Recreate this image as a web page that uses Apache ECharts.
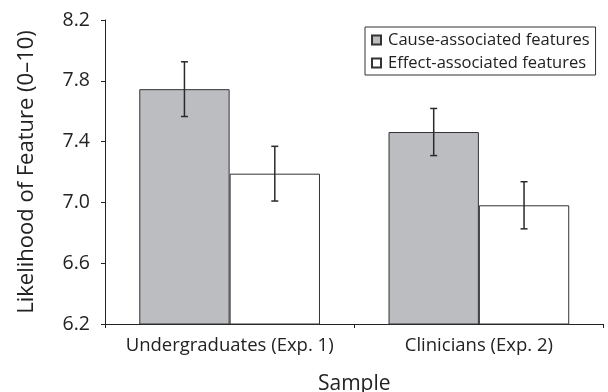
<!DOCTYPE html>
<html><head><meta charset="utf-8">
<script src="https://cdn.jsdelivr.net/npm/echarts@6/dist/echarts.min.js"></script>
<style>html,body{margin:0;padding:0;background:#fff}#c{width:608px;height:392px}</style>
</head><body><div id="c"></div>
<script>
var categories = ['Undergraduates (Exp. 1)', 'Clinicians (Exp. 2)'];
var seriesNames = ['Cause-associated features', 'Effect-associated features'];
var causeValues = [7.745, 7.463];
var effectValues = [7.189, 6.981];
var causeErrors = [0.18, 0.155];
var effectErrors = [0.18, 0.155];
var yTicks = ['6.2', '6.6', '7.0', '7.4', '7.8', '8.2'];

var FONT = 'Open Sans';
var CAT_GAP = 0.275;

function errSeries(values, errs, side) {
  return {
    type: 'custom',
    silent: true,
    z: 5,
    data: values.map(function (v, i) { return [i, v, errs[i]]; }),
    renderItem: function (params, api) {
      var band = api.size([1, 0])[0];
      var bw = band * (1 - CAT_GAP) / 2;
      var c = api.coord([api.value(0), api.value(1)]);
      var x = c[0] + side * bw / 2;
      var top = api.coord([api.value(0), api.value(1) + api.value(2)])[1];
      var bot = api.coord([api.value(0), api.value(1) - api.value(2)])[1];
      var cap = 3.5;
      var st = { stroke: '#2a2a2a', lineWidth: 1.5 };
      return { type: 'group', children: [
        { type: 'line', shape: { x1: x, y1: top, x2: x, y2: bot }, style: st },
        { type: 'line', shape: { x1: x - cap, y1: top, x2: x + cap, y2: top }, style: st },
        { type: 'line', shape: { x1: x - cap, y1: bot, x2: x + cap, y2: bot }, style: st }
      ]};
    }
  };
}

var chart = echarts.init(document.getElementById('c'), null, { renderer: 'canvas' });
chart.setOption({
  animation: false,
  textStyle: { fontFamily: FONT },
  grid: { left: 105, right: 4.5, top: 20, bottom: 68, containLabel: false, outerBoundsMode: 'none' },
  legend: {
    orient: 'vertical',
    left: 365, top: 27,
    padding: [4, 6, 3, 6],
    itemGap: 5,
    itemWidth: 9, itemHeight: 9,
    icon: 'rect',
    borderColor: '#333', borderWidth: 1,
    textStyle: { fontFamily: FONT, fontSize: 16.5, lineHeight: 18, color: '#222', padding: [0, 0, 0, 2] },
    data: seriesNames
  },
  xAxis: {
    type: 'category',
    data: categories,
    name: 'Sample',
    nameLocation: 'middle',
    nameGap: 50,
    nameTextStyle: { fontFamily: FONT, fontSize: 21, color: '#222' },
    axisLine: { lineStyle: { color: '#222', width: 1 } },
    axisTick: { show: true, length: 4, lineStyle: { color: '#222' } },
    axisLabel: { fontFamily: FONT, fontSize: 18.5, color: '#222', margin: 12, interval: 0, hideOverlap: false },
    splitLine: { show: false }
  },
  yAxis: {
    type: 'value',
    min: 6.2, max: 8.2, interval: 0.4,
    name: 'Likelihood of Feature (0\u201310)',
    nameLocation: 'middle',
    nameGap: 67,
    nameTextStyle: { fontFamily: FONT, fontSize: 22, color: '#222' },
    axisLine: { show: true, lineStyle: { color: '#222', width: 1 } },
    axisTick: { show: true, length: 4, lineStyle: { color: '#222' } },
    axisLabel: { fontFamily: FONT, fontSize: 19.5, color: '#222', margin: 15,
      formatter: function (v) { var i = Math.round((v - 6.2) / 0.4); return yTicks[i]; } },
    splitLine: { show: false }
  },
  series: [
    { name: seriesNames[0], type: 'bar', data: causeValues, barGap: '0%', barCategoryGap: (CAT_GAP * 100) + '%',
      itemStyle: { color: '#bcbdc1', borderColor: '#333', borderWidth: 1 } },
    { name: seriesNames[1], type: 'bar', data: effectValues, barGap: '0%', barCategoryGap: (CAT_GAP * 100) + '%',
      itemStyle: { color: '#ffffff', borderColor: '#333', borderWidth: 1 } },
    errSeries(causeValues, causeErrors, -1),
    errSeries(effectValues, effectErrors, 1)
  ]
});
</script></body></html>
